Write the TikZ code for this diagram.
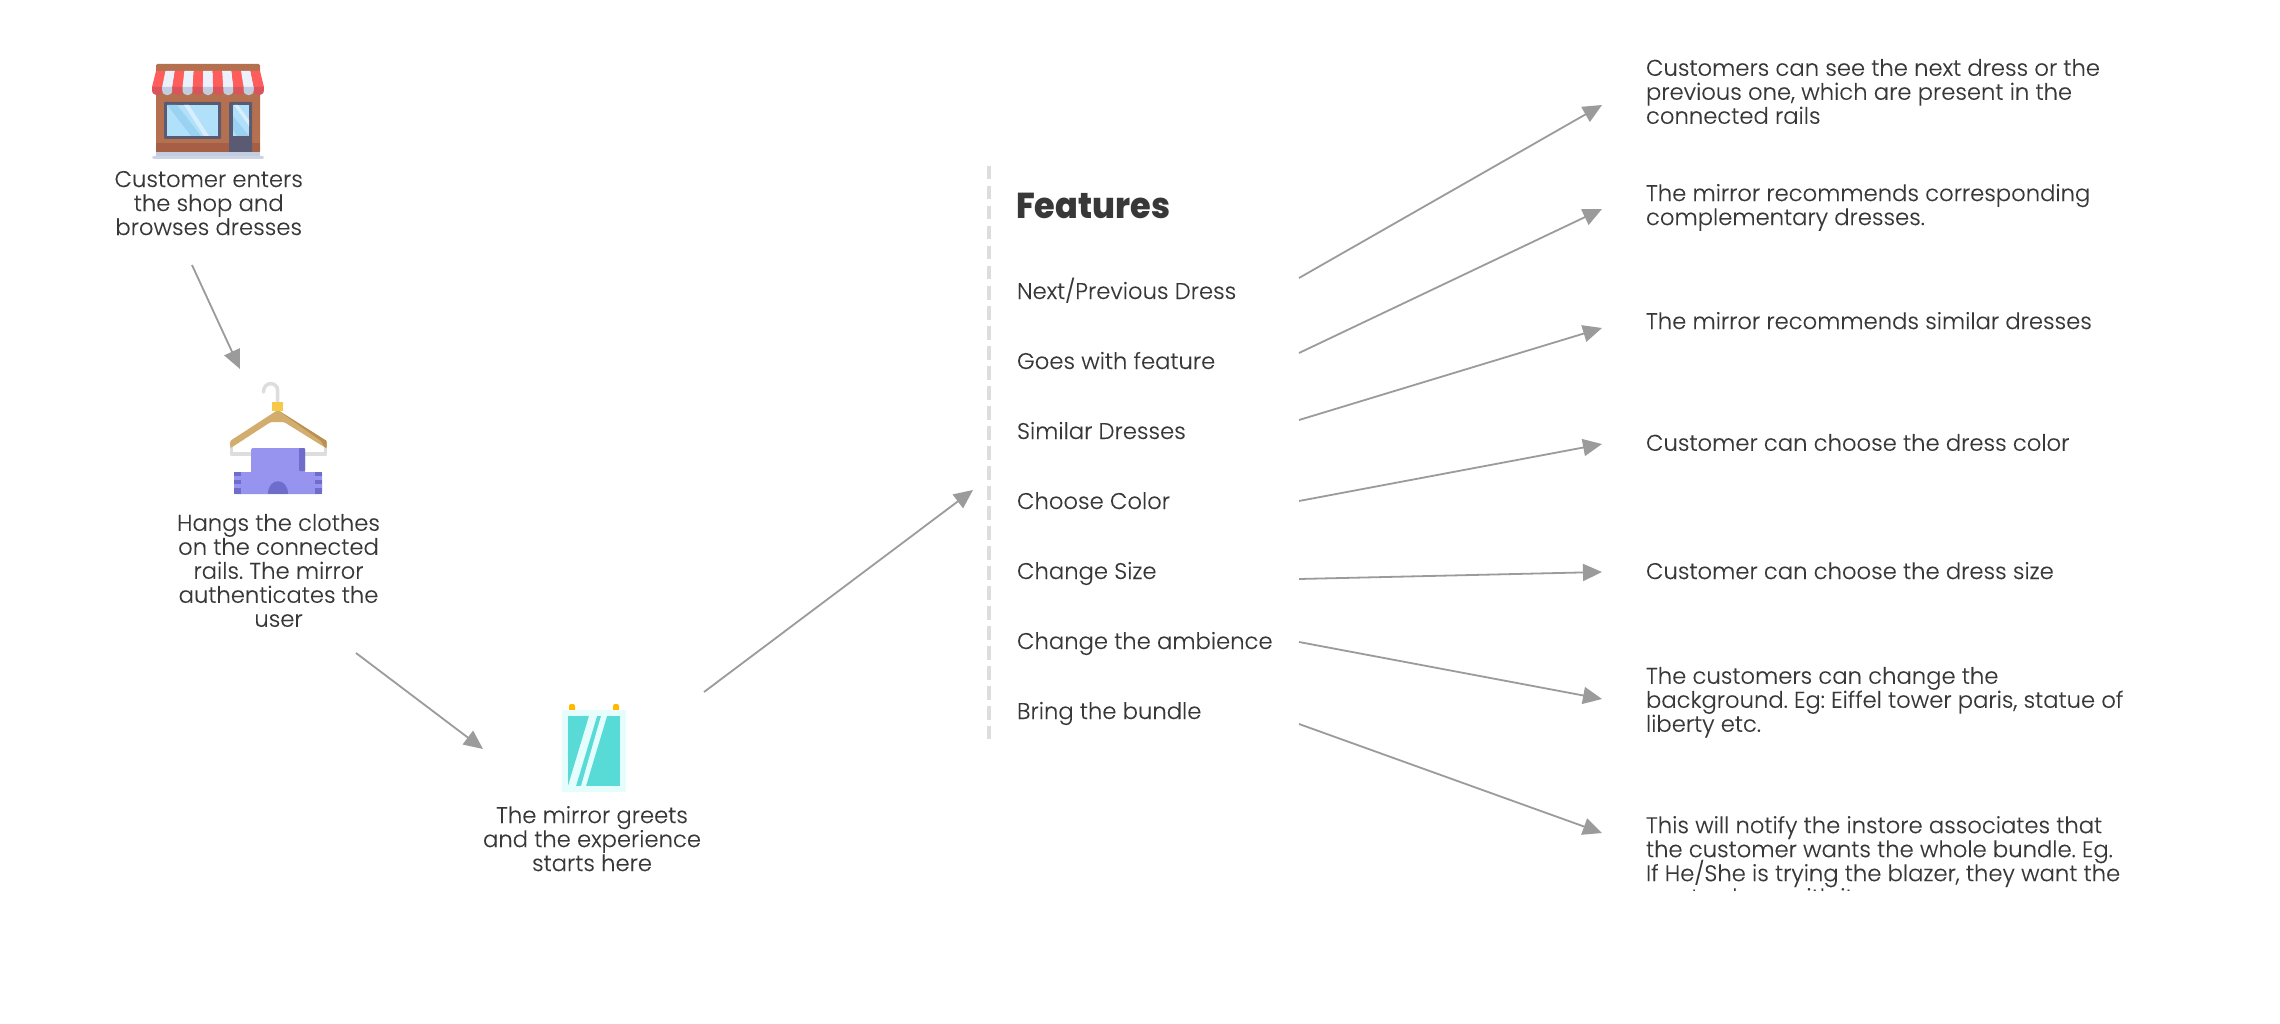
\documentclass[tikz,border=0pt]{standalone}
\usepackage{fontspec}
\usetikzlibrary{arrows.meta}
\setmainfont[FakeBold=0.12]{Poppins Light}
\newfontface\blk[FakeStretch=0.93]{Poppins ExtraBold}
\frenchspacing
\normallineskiplimit=-50pt
\lineskiplimit=-50pt
\definecolor{ink}{HTML}{383838}
\definecolor{arrowgray}{HTML}{9B9B9B}
\definecolor{dashgray}{HTML}{DDDDDD}
\definecolor{brick}{HTML}{B5714F}
\definecolor{brickdk}{HTML}{A65F44}
\definecolor{awnred}{HTML}{FF5C5C}
\definecolor{awnreddk}{HTML}{D9545B}
\definecolor{awnwh}{HTML}{EDF1FB}
\definecolor{awnwhdk}{HTML}{C3CDE1}
\definecolor{frameblue}{HTML}{5A5A72}
\definecolor{glass}{HTML}{B0E0FA}
\definecolor{glassdk}{HTML}{9AD3F2}
\definecolor{wood}{HTML}{D2AD6E}
\definecolor{wooddk}{HTML}{B8904F}
\definecolor{capyel}{HTML}{F7C948}
\definecolor{wire}{HTML}{DDDDDD}
\definecolor{purp}{HTML}{9694EE}
\definecolor{purpdk}{HTML}{6F6DCB}
\definecolor{mirrorfr}{HTML}{E5FDFD}
\definecolor{mirrorin}{HTML}{58DAD6}
\definecolor{peg}{HTML}{FFB900}
\newcommand\fl{\rule{0pt}{16pt}}
\tikzset{
  body/.style={font=\fontsize{22.7}{24}\selectfont, text=ink, inner sep=0pt, outer sep=0pt},
  ctext/.style={body, anchor=north, align=center},
  ltext/.style={body, anchor=north west, align=left},
  feat/.style={body, anchor=base west},
  flow/.style={draw=arrowgray, line width=1.8pt, -{Triangle[length=19pt,width=17pt]}},
}
\begin{document}
\begin{tikzpicture}[x=1pt,y=-1pt]
\useasboundingbox (0,0) rectangle (2280,1024);
\fill[white] (0,0) rectangle (2280,1024);

% store icon
\fill[brick,rounded corners=1.5pt] (156,64) rectangle (260,152);
\fill[brickdk] (156,143) rectangle (260,152);
\fill[awnwhdk] (156,152) rectangle (260,156);
\fill[awnwhdk!85!white,rounded corners=1.5pt] (152,156) rectangle (264,159);
\fill[frameblue,rounded corners=1pt] (164,102) rectangle (221,139);
\fill[glass] (167.3,105) rectangle (217.7,136);
\fill[glassdk] (167.3,105) -- (177,105) -- (201,136) -- (191,136) -- cycle;
\fill[glass!50!white] (184,105) -- (189,105) -- (209,136) -- (204,136) -- cycle;
\fill[frameblue,rounded corners=1pt] (229,102) rectangle (252,152);
\fill[glass] (233,105) rectangle (249,136);
\fill[glassdk] (233,116) -- (249,136) -- (237,136) -- (233,130) -- cycle;
\fill[glass!50!white] (234,105) -- (238,105) -- (249,120) -- (249,126) -- cycle;
\foreach \i [evaluate=\i as \bl using 152+\i*10.18, evaluate=\i as \br using 152+(\i+1)*10.18, evaluate=\i as \tl using 156+\i*9.45, evaluate=\i as \tr using 156+(\i+1)*9.45, evaluate=\i as \k using {int(mod(\i,2))}] in {0,...,10}{
  \ifnum\k=0 \colorlet{awnmain}{awnred}\colorlet{awnlow}{awnreddk}\else\colorlet{awnmain}{awnwh}\colorlet{awnlow}{awnwhdk}\fi
  \fill[awnmain] (\tl,71) -- (\tr,71) -- (\br,87) -- (\bl,87) -- cycle;
  \fill[awnlow] (\bl,87) -- (\br,87) -- (\br,90) .. controls (\br,97) and (\bl,97) .. (\bl,90) -- cycle;
}

% hanger icon
\draw[wire,line width=3.5pt,line cap=round] (277.7,403) -- (277.7,391) .. controls (277.7,381) and (263.5,381) .. (263.5,392);
\draw[wire,line width=3.5pt,line join=round] (231.5,445) -- (231.5,454) -- (325.5,454) -- (325.5,445);
\fill[wood,rounded corners=1.5pt] (277.7,410) -- (230,441) -- (230,447.5) -- (231.5,447.5) -- (270.7,422) -- (284,422) -- (325,447.5) -- (326.7,447.5) -- (326.7,441) -- cycle;
\fill[wooddk] (277.7,410) -- (326.7,441) -- (326.7,447.5) -- (325,447.5) -- (321,441) -- cycle;
\fill[capyel] (272,402) rectangle (283,411);
\fill[purp,rounded corners=1.5pt] (251,448) rectangle (305,480);
\fill[purp,rounded corners=1.5pt] (234,472) rectangle (322,494);
\fill[purpdk,rounded corners=1pt] (299,448) rectangle (305,471);
\fill[purpdk] (234,472) rectangle (241,476);
\fill[purpdk] (234,480) rectangle (241,484);
\fill[purpdk] (234,488) rectangle (241,494);
\fill[purpdk] (315,472) rectangle (322,476);
\fill[purpdk] (315,480) rectangle (322,484);
\fill[purpdk] (315,488) rectangle (322,494);
\fill[purpdk] (268,494) .. controls (268,477) and (288,477) .. (288,494) -- cycle;

% mirror icon
\fill[peg,rounded corners=2pt] (569,704) rectangle (575,712);
\fill[peg,rounded corners=2pt] (613,704) rectangle (619,712);
\fill[mirrorfr] (562,710) rectangle (626,792);
\fill[mirrorin] (568,716) rectangle (620,786);
\fill[mirrorfr] (589,716) -- (597,716) -- (576,786) -- (568,786) -- cycle;
\fill[mirrorfr] (601,716) -- (607,716) -- (586,786) -- (581,786) -- cycle;

% step captions
\node[ctext] (shoptext) at (208.7,171) {\fl Customer enters\\the shop and\\browses dresses};
\node[ctext] (hangtext) at (278.5,514) {\fl Hangs the clothes\\on the connected\\rails. The mirror\\authenticates the\\user};
\node[ctext] (mirrortext) at (592,806) {\fl The mirror greets\\and the experience\\starts here};

% features list
\draw[dashgray,line width=4pt,dash pattern=on 13.5pt off 6.5pt] (989,166) coordinate (dashtop) -- (989,739) coordinate (dashbot);
\node[anchor=base west,inner sep=0pt,text=ink,font=\fontsize{36}{40}\selectfont\blk] (features) at (1016,219) {Features};
\node[feat] (f1) at (1017,299) {Next/Previous Dress};
\node[feat] (f2) at (1017,369) {Goes with feature};
\node[feat] (f3) at (1017,439) {Similar Dresses};
\node[feat] (f4) at (1017,509) {Choose Color};
\node[feat] (f5) at (1017,579) {Change Size};
\node[feat] (f6) at (1017,649) {Change the ambience};
\node[feat] (f7) at (1017,719) {Bring the bundle};

% descriptions
\node[ltext] (d1) at (1646,59) {\fl Customers can see the next dress or the\\previous one, which are present in the\\connected rails};
\node[ltext] (d2) at (1646,184) {\fl The mirror recommends corresponding\\complementary dresses.};
\node[ltext] (d3) at (1646,312) {\fl The mirror recommends similar dresses};
\node[ltext] (d4) at (1646,434) {\fl Customer can choose the dress color};
\node[ltext] (d5) at (1646,562) {\fl Customer can choose the dress size};
\node[ltext] (d6) at (1646,667) {\fl The customers can change the\\background. Eg: Eiffel tower paris, statue of\\liberty etc.};
\begin{scope}
\clip (1600,800) rectangle (2200,890);
\node[ltext] (d7) at (1646,816) {\fl This will notify the instore associates that\\the customer wants the whole bundle. Eg.\\If He/She is trying the blazer, they want the\\pants along with it};
\end{scope}

% connector ends
\coordinate (a1s) at (192,265); \coordinate (a1e) at (240,369);
\coordinate (a2s) at (356,653); \coordinate (a2e) at (483,749);
\coordinate (a3s) at (704,692); \coordinate (a3e) at (973,490);
\foreach \n/\sy/\ey/\ex in {1/278/105/1602,2/353/209/1602,3/420/328/1602,4/501/444/1602,5/579/572/1602,6/642/699/1602,7/724/833/1602}{
  \coordinate (fs\n) at (1299,\sy);
  \coordinate (fe\n) at (\ex,\ey);
  \draw[flow] (fs\n) -- (fe\n);
}
\draw[flow] (a1s) -- (a1e);
\draw[flow] (a2s) -- (a2e);
\draw[flow] (a3s) -- (a3e);
\end{tikzpicture}
\end{document}
